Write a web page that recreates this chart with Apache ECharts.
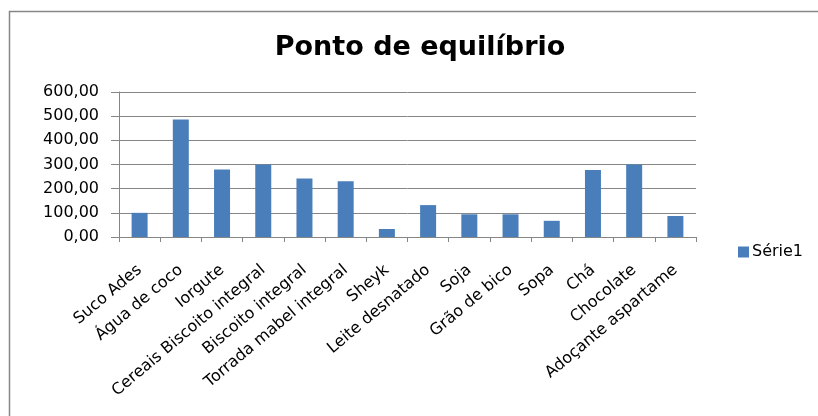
<!DOCTYPE html>
<html>
<head>
<meta charset="utf-8">
<script src="https://cdn.jsdelivr.net/npm/echarts@6/dist/echarts.min.js"></script>
<style>
  html, body { margin: 0; padding: 0; background: #fff; }
  #main { width: 818px; height: 416px; }
</style>
</head>
<body>
<div id="main"></div>
<script>
// categorias e valores
var categories = [
  'Suco Ades', 'Água de coco', 'Iorgute', 'Cereais Biscoito integral',
  'Biscoito integral', 'Torrada mabel integral', 'Sheyk', 'Leite desnatado',
  'Soja', 'Grão de bico', 'Sopa', 'Chá', 'Chocolate', 'Adoçante aspartame'
];
var serie1 = [100, 486, 279, 300, 242, 231, 33, 132, 94, 94, 67, 277, 300, 87];
var yTicks = [0, 100, 200, 300, 400, 500, 600];

var chart = echarts.init(document.getElementById('main'));
var font = '"DejaVu Sans", Verdana, sans-serif';

chart.setOption({
  animation: false,
  textStyle: { fontFamily: font },
  title: {
    text: 'Ponto de equilíbrio',
    left: 415,
    top: 29,
    textAlign: 'center',
    textStyle: { fontFamily: font, fontSize: 27, fontWeight: 'bold', color: '#000' }
  },
  graphic: [{
    type: 'rect',
    shape: { x: 9.5, y: 11.5, width: 900, height: 500 },
    style: { fill: null, stroke: '#868686', lineWidth: 1.5 },
    silent: true
  }],
  legend: {
    data: ['Série1'],
    left: 733,
    top: 239,
    itemWidth: 11,
    itemHeight: 11,
    itemGap: 6,
    icon: 'rect',
    textStyle: { fontFamily: font, fontSize: 16, color: '#000', padding: [0, 0, 0, -2] }
  },
  grid: { left: 119, top: 92, width: 577, height: 145, containLabel: false },
  xAxis: {
    type: 'category',
    data: categories,
    axisLine: { lineStyle: { color: '#868686' } },
    axisTick: { show: true, length: 5, alignWithLabel: false, lineStyle: { color: '#868686' } },
    axisLabel: {
      interval: 0,
      rotate: 40,
      margin: 31,
      fontFamily: font,
      fontSize: 16,
      color: '#000'
    }
  },
  yAxis: {
    type: 'value',
    min: yTicks[0],
    max: yTicks[yTicks.length - 1],
    interval: 100,
    axisLine: { show: true, lineStyle: { color: '#868686' } },
    axisTick: { show: true, length: 8, lineStyle: { color: '#868686' } },
    splitLine: { lineStyle: { color: '#868686' } },
    axisLabel: {
      margin: 20,
      fontFamily: font,
      fontSize: 16,
      color: '#000',
      formatter: function (v) { return v.toFixed(2).replace('.', ','); }
    }
  },
  series: [{
    name: 'Série1',
    type: 'bar',
    data: serie1,
    barWidth: 16,
    itemStyle: { color: '#4a7ebb' }
  }]
});
</script>
</body>
</html>
